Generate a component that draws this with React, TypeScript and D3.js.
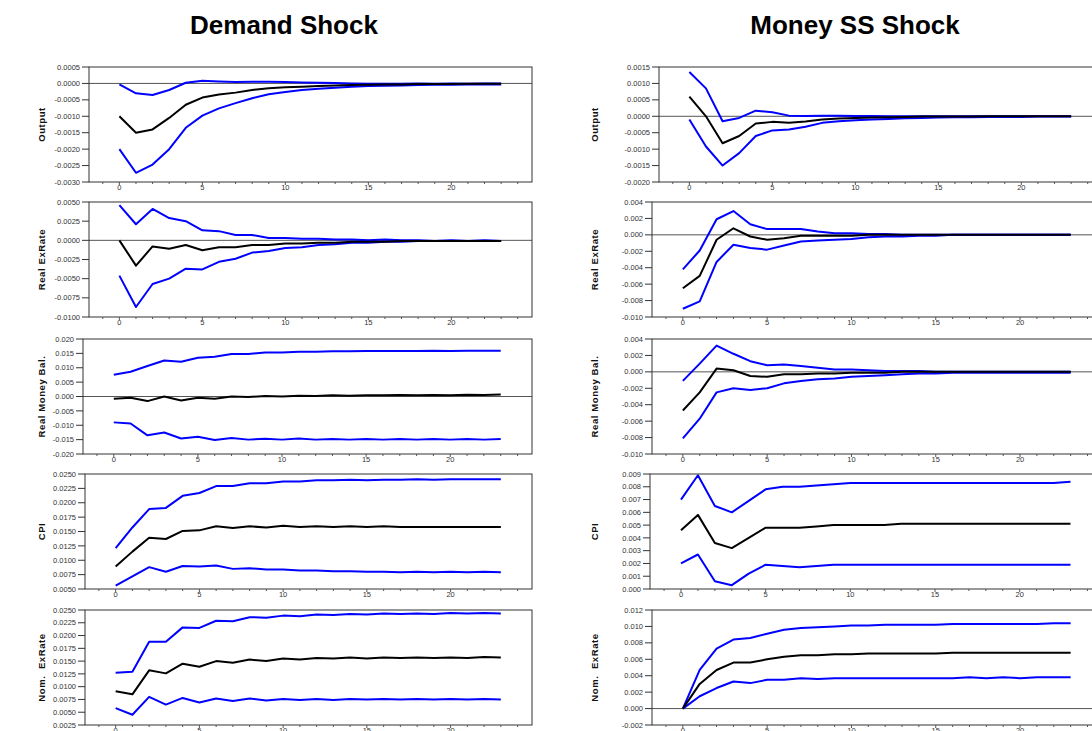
import React from 'react';
import * as d3 from 'd3';

// horizon index 0..23
const horizons = d3.range(24);

// ---- Demand Shock ----
const demandOutputUpper = [-0.00003, -0.0003, -0.00035, -0.0002, 0.00002, 0.00008, 0.00006, 0.00004, 0.00005, 0.00005, 0.00004, 0.00003, 0.00002, 0.00001, 0.0, -0.00001, -0.00001, -0.00001, 0.0, -0.00001, 0.0, -0.00001, 0.0, 0.0];
const demandOutputMid = [-0.001, -0.0015, -0.0014, -0.00105, -0.00065, -0.00043, -0.00034, -0.00028, -0.0002, -0.00015, -0.00012, -0.0001, -0.00008, -0.00006, -0.00005, -0.00004, -0.00003, -0.00003, -0.00002, -0.00002, -0.00002, -0.00001, -0.00001, -0.00001];
const demandOutputLower = [-0.002, -0.00272, -0.00247, -0.002, -0.00135, -0.00098, -0.00076, -0.0006, -0.00045, -0.00033, -0.00026, -0.0002, -0.00016, -0.00013, -0.0001, -0.00008, -0.00007, -0.00006, -0.00005, -0.00004, -0.00004, -0.00003, -0.00003, -0.00003];

const demandRerUpper = [0.0046, 0.0021, 0.0041, 0.0029, 0.0025, 0.0013, 0.0012, 0.0007, 0.0007, 0.0003, 0.0003, 0.0002, 0.0002, 0.0001, 0.0001, 0.0, 0.0001, 0.0, 0.0, -0.0001, 0.0, -0.0001, 0.0, -0.0001];
const demandRerMid = [0.0, -0.0033, -0.0008, -0.0011, -0.0006, -0.0013, -0.0009, -0.0009, -0.0006, -0.0006, -0.0004, -0.0004, -0.0003, -0.0003, -0.0002, -0.0002, -0.0002, -0.0001, -0.0001, -0.0001, -0.0001, -0.0001, -0.0001, -0.0001];
const demandRerLower = [-0.0046, -0.0087, -0.0057, -0.005, -0.0037, -0.0038, -0.0028, -0.0024, -0.0016, -0.0014, -0.001, -0.0009, -0.0006, -0.0005, -0.0003, -0.0003, -0.0002, -0.0002, -0.0001, -0.0001, -0.0001, -0.0001, -0.0001, -0.0001];

const demandRmbUpper = [0.0076, 0.0086, 0.0106, 0.0125, 0.0121, 0.0135, 0.0138, 0.0148, 0.0148, 0.0153, 0.0153, 0.0156, 0.0156, 0.0157, 0.0157, 0.0158, 0.0158, 0.0158, 0.0158, 0.0159, 0.0158, 0.0159, 0.0159, 0.0159];
const demandRmbMid = [-0.0008, -0.0004, -0.0016, 0.0, -0.0014, -0.0004, -0.0008, 0.0, -0.0002, 0.0002, 0.0, 0.0003, 0.0002, 0.0004, 0.0003, 0.0004, 0.0004, 0.0005, 0.0004, 0.0005, 0.0004, 0.0006, 0.0005, 0.0007];
const demandRmbLower = [-0.009, -0.0094, -0.0135, -0.0125, -0.0146, -0.014, -0.0151, -0.0144, -0.015, -0.0147, -0.015, -0.0146, -0.015, -0.0148, -0.015, -0.0148, -0.015, -0.0148, -0.015, -0.0148, -0.015, -0.0148, -0.015, -0.0148];

const demandCpiUpper = [0.0121, 0.0157, 0.0189, 0.0191, 0.0212, 0.0217, 0.0229, 0.0229, 0.0234, 0.0234, 0.0237, 0.0237, 0.0239, 0.0239, 0.024, 0.0239, 0.024, 0.024, 0.0241, 0.024, 0.0241, 0.0241, 0.0241, 0.0241];
const demandCpiMid = [0.0089, 0.0115, 0.0139, 0.0137, 0.0151, 0.0152, 0.0159, 0.0156, 0.0159, 0.0157, 0.016, 0.0158, 0.0159, 0.0158, 0.0159, 0.0158, 0.0159, 0.0158, 0.0158, 0.0158, 0.0158, 0.0158, 0.0158, 0.0158];
const demandCpiLower = [0.0056, 0.0072, 0.0088, 0.008, 0.009, 0.0089, 0.0091, 0.0085, 0.0086, 0.0084, 0.0084, 0.0082, 0.0082, 0.0081, 0.0081, 0.008, 0.008, 0.0079, 0.008, 0.0079, 0.008, 0.0079, 0.008, 0.0079];

const demandNerUpper = [0.0127, 0.0129, 0.0188, 0.0188, 0.0216, 0.0215, 0.0229, 0.0228, 0.0236, 0.0235, 0.0239, 0.0238, 0.0241, 0.024, 0.0242, 0.0241, 0.0243, 0.0242, 0.0243, 0.0242, 0.0244, 0.0243, 0.0244, 0.0243];
const demandNerMid = [0.0091, 0.0085, 0.0132, 0.0126, 0.0145, 0.0139, 0.015, 0.0147, 0.0153, 0.015, 0.0155, 0.0153, 0.0156, 0.0155, 0.0157, 0.0155, 0.0157, 0.0156, 0.0157, 0.0156, 0.0157, 0.0156, 0.0158, 0.0157];
const demandNerLower = [0.0058, 0.0045, 0.008, 0.0065, 0.0078, 0.0069, 0.0077, 0.0072, 0.0077, 0.0073, 0.0076, 0.0074, 0.0076, 0.0074, 0.0076, 0.0075, 0.0076, 0.0075, 0.0076, 0.0075, 0.0076, 0.0075, 0.0076, 0.0075];

// ---- Money SS Shock ----
const moneyOutputUpper = [0.00135, 0.00085, -0.00015, -0.00005, 0.00017, 0.00012, 0.00002, 0.00001, 0.00002, 0.00002, 0.00001, 0.00001, 0.0, 0.0, 0.0, 0.0, 0.0, 0.0, 0.0, 0.0, 0.0, 0.0, 0.0, 0.0];
const moneyOutputMid = [0.0006, 0.0, -0.00082, -0.0006, -0.00022, -0.00017, -0.0002, -0.00016, -0.0001, -0.00007, -0.00005, -0.00004, -0.00003, -0.00002, -0.00001, -0.00001, -0.00001, -0.00001, 0.0, 0.0, 0.0, 0.0, 0.0, 0.0];
const moneyOutputLower = [-0.0001, -0.00092, -0.0015, -0.00112, -0.0006, -0.00043, -0.0004, -0.00032, -0.0002, -0.00015, -0.00012, -0.0001, -0.00008, -0.00006, -0.00005, -0.00004, -0.00003, -0.00003, -0.00002, -0.00002, -0.00002, -0.00001, -0.00001, -0.00001];

const moneyRerUpper = [-0.0042, -0.0019, 0.0019, 0.0029, 0.0013, 0.0007, 0.0007, 0.0007, 0.0004, 0.0002, 0.0002, 0.0001, 0.0001, 0.0, 0.0, 0.0, 0.0, 0.0, 0.0, 0.0, 0.0, 0.0, 0.0, 0.0];
const moneyRerMid = [-0.0065, -0.005, -0.0006, 0.0008, -0.0002, -0.0006, -0.0004, -0.0001, -0.0001, -0.0001, -0.0001, 0.0, 0.0, 0.0, 0.0, 0.0, 0.0, 0.0, 0.0, 0.0, 0.0, 0.0, 0.0, 0.0];
const moneyRerLower = [-0.009, -0.0081, -0.0033, -0.0012, -0.0016, -0.0018, -0.0013, -0.0008, -0.0007, -0.0006, -0.0005, -0.0003, -0.0002, -0.0002, -0.0001, -0.0001, 0.0, 0.0, 0.0, 0.0, 0.0, 0.0, 0.0, 0.0];

const moneyRmbUpper = [-0.0011, 0.001, 0.0032, 0.0022, 0.0013, 0.0008, 0.0009, 0.0007, 0.0005, 0.0003, 0.0003, 0.0002, 0.0001, 0.0001, 0.0001, 0.0, 0.0, 0.0, 0.0, 0.0, 0.0, 0.0, 0.0, 0.0];
const moneyRmbMid = [-0.0047, -0.0025, 0.0004, 0.0002, -0.0005, -0.0006, -0.0003, -0.0003, -0.0002, -0.0002, -0.0001, -0.0001, -0.0001, 0.0, 0.0, 0.0, 0.0, 0.0, 0.0, 0.0, 0.0, 0.0, 0.0, 0.0];
const moneyRmbLower = [-0.0081, -0.0057, -0.0025, -0.002, -0.0022, -0.002, -0.0014, -0.0011, -0.0009, -0.0008, -0.0006, -0.0005, -0.0004, -0.0003, -0.0002, -0.0002, -0.0001, -0.0001, -0.0001, -0.0001, -0.0001, -0.0001, -0.0001, -0.0001];

const moneyCpiUpper = [0.007, 0.0089, 0.0065, 0.006, 0.0069, 0.0078, 0.008, 0.008, 0.0081, 0.0082, 0.0083, 0.0083, 0.0083, 0.0083, 0.0083, 0.0083, 0.0083, 0.0083, 0.0083, 0.0083, 0.0083, 0.0083, 0.0083, 0.0084];
const moneyCpiMid = [0.0046, 0.0058, 0.0036, 0.0032, 0.004, 0.0048, 0.0048, 0.0048, 0.0049, 0.005, 0.005, 0.005, 0.005, 0.0051, 0.0051, 0.0051, 0.0051, 0.0051, 0.0051, 0.0051, 0.0051, 0.0051, 0.0051, 0.0051];
const moneyCpiLower = [0.002, 0.0027, 0.0006, 0.0003, 0.0012, 0.0019, 0.0018, 0.0017, 0.0018, 0.0019, 0.0019, 0.0019, 0.0019, 0.0019, 0.0019, 0.0019, 0.0019, 0.0019, 0.0019, 0.0019, 0.0019, 0.0019, 0.0019, 0.0019];

const moneyNerUpper = [0.0, 0.0047, 0.0073, 0.0084, 0.0086, 0.0091, 0.0096, 0.0098, 0.0099, 0.01, 0.0101, 0.0101, 0.0102, 0.0102, 0.0102, 0.0102, 0.0103, 0.0103, 0.0103, 0.0103, 0.0103, 0.0103, 0.0104, 0.0104];
const moneyNerMid = [0.0, 0.003, 0.0047, 0.0056, 0.0056, 0.006, 0.0063, 0.0065, 0.0065, 0.0066, 0.0066, 0.0067, 0.0067, 0.0067, 0.0067, 0.0067, 0.0068, 0.0068, 0.0068, 0.0068, 0.0068, 0.0068, 0.0068, 0.0068];
const moneyNerLower = [0.0, 0.0015, 0.0025, 0.0033, 0.0031, 0.0035, 0.0035, 0.0037, 0.0036, 0.0037, 0.0037, 0.0037, 0.0037, 0.0037, 0.0037, 0.0037, 0.0037, 0.0038, 0.0037, 0.0038, 0.0037, 0.0038, 0.0038, 0.0038];

// y axes: [min, max, step, decimals]
const outputAxisL = [-0.003, 0.0005, 0.0005, 4];
const rerAxisL = [-0.01, 0.005, 0.0025, 4];
const rmbAxisL = [-0.02, 0.02, 0.005, 3];
const cpiAxisL = [0.005, 0.025, 0.0025, 4];
const nerAxisL = [0.0025, 0.025, 0.0025, 4];
const outputAxisR = [-0.002, 0.0015, 0.0005, 4];
const rerAxisR = [-0.01, 0.004, 0.002, 3];
const rmbAxisR = [-0.01, 0.004, 0.002, 3];
const cpiAxisR = [0.0, 0.009, 0.001, 3];
const nerAxisR = [-0.002, 0.012, 0.002, 3];

const variableNames = ['Output', 'Real ExRate', 'Real Money Bal.', 'CPI', 'Nom.  ExRate'];
const shockTitles = ['Demand Shock', 'Money SS Shock'];
const xMajorTicks = [0, 5, 10, 15, 20];

interface PanelSpec {
  name: string;
  axis: number[];
  upper: number[];
  mid: number[];
  lower: number[];
}

const demandPanels: PanelSpec[] = [
  { name: variableNames[0], axis: outputAxisL, upper: demandOutputUpper, mid: demandOutputMid, lower: demandOutputLower },
  { name: variableNames[1], axis: rerAxisL, upper: demandRerUpper, mid: demandRerMid, lower: demandRerLower },
  { name: variableNames[2], axis: rmbAxisL, upper: demandRmbUpper, mid: demandRmbMid, lower: demandRmbLower },
  { name: variableNames[3], axis: cpiAxisL, upper: demandCpiUpper, mid: demandCpiMid, lower: demandCpiLower },
  { name: variableNames[4], axis: nerAxisL, upper: demandNerUpper, mid: demandNerMid, lower: demandNerLower },
];

const moneyPanels: PanelSpec[] = [
  { name: variableNames[0], axis: outputAxisR, upper: moneyOutputUpper, mid: moneyOutputMid, lower: moneyOutputLower },
  { name: variableNames[1], axis: rerAxisR, upper: moneyRerUpper, mid: moneyRerMid, lower: moneyRerLower },
  { name: variableNames[2], axis: rmbAxisR, upper: moneyRmbUpper, mid: moneyRmbMid, lower: moneyRmbLower },
  { name: variableNames[3], axis: cpiAxisR, upper: moneyCpiUpper, mid: moneyCpiMid, lower: moneyCpiLower },
  { name: variableNames[4], axis: nerAxisR, upper: moneyNerUpper, mid: moneyNerMid, lower: moneyNerLower },
];

// layout
const panelTops = [67, 202, 339, 474, 610];
const panelHeight = 115;
const columns = [
  { panels: demandPanels, lefts: [89, 89, 83, 85, 85], right: 532, labelX: 42, titleX: 284 },
  { panels: moneyPanels, lefts: [659, 652, 652, 650, 652], right: 1102, labelX: 595, titleX: 855 },
];
const xDomain: [number, number] = [-1.83, 24.86];
const font = 'Arial, "Liberation Sans", sans-serif';

const fmt = (v: number, dec: number) => {
  const s = v.toFixed(dec);
  return Math.abs(v) < 1e-12 ? (0).toFixed(dec) : s;
};

const Panel: React.FC<{ spec: PanelSpec; left: number; right: number; top: number; labelX: number }> = ({ spec, left, right, top, labelX }) => {
  const [yMin, yMax, step, dec] = spec.axis;
  const bottom = top + panelHeight;
  const x = d3.scaleLinear().domain(xDomain).range([left, right]);
  const y = d3.scaleLinear().domain([yMin, yMax]).range([bottom, top]);
  const n = Math.round((yMax - yMin) / step);
  const yTicks = d3.range(n + 1).map((i) => yMin + i * step);
  const minor = d3.range(-1, 25);
  const line = d3
    .line<number>()
    .x((_, i) => x(horizons[i]))
    .y((d) => y(d));
  const midY = (top + bottom) / 2;
  return (
    <g>
      {yMin < 0 && yMax > 0 && (
        <line x1={left} x2={right} y1={y(0)} y2={y(0)} stroke="#555" strokeWidth={1} />
      )}
      <path d={line(spec.upper) || ''} fill="none" stroke="#0000ff" strokeWidth={2} strokeLinejoin="round" />
      <path d={line(spec.lower) || ''} fill="none" stroke="#0000ff" strokeWidth={2} strokeLinejoin="round" />
      <path d={line(spec.mid) || ''} fill="none" stroke="#000" strokeWidth={2} strokeLinejoin="round" />
      <rect x={left} y={top} width={right - left} height={panelHeight} fill="none" stroke="#333" strokeWidth={1} />
      {yTicks.map((t) => (
        <g key={t}>
          <line x1={left - 7} x2={left} y1={y(t)} y2={y(t)} stroke="#333" />
          <text x={left - 9} y={y(t)} dy="0.35em" textAnchor="end" fontSize={7.5} fontFamily={font} fill="#333">
            {fmt(t, dec)}
          </text>
        </g>
      ))}
      {minor.map((t) => (
        <line key={t} x1={x(t)} x2={x(t)} y1={bottom} y2={bottom + (t % 5 === 0 ? 3 : 2)} stroke="#555" />
      ))}
      {xMajorTicks.map((t) => (
        <text key={t} x={x(t)} y={bottom + 8} textAnchor="middle" fontSize={7.5} fontFamily={font} fill="#333">
          {t}
        </text>
      ))}
      <text
        transform={`translate(${labelX},${midY}) rotate(-90)`}
        textAnchor="middle"
        dy="0.35em"
        fontSize={9.5}
        fontWeight="bold"
        fontFamily={font}
        letterSpacing={0.6}
        fill="#111"
        xmlSpace="preserve"
      >
        {spec.name}
      </text>
    </g>
  );
};

export default function App() {
  return (
    <svg width={1092} height={731} style={{ position: 'absolute', left: 0, top: 0, background: '#fff' }}>
      <rect width={1092} height={731} fill="#fff" />
      {columns.map((col, ci) => (
        <g key={ci}>
          <text x={col.titleX} y={34} textAnchor="middle" fontSize={26} fontWeight="bold" fontFamily={font} fill="#000">
            {shockTitles[ci]}
          </text>
          {col.panels.map((p, pi) => (
            <Panel key={pi} spec={p} left={col.lefts[pi]} right={col.right} top={panelTops[pi]} labelX={col.labelX} />
          ))}
        </g>
      ))}
    </svg>
  );
}
